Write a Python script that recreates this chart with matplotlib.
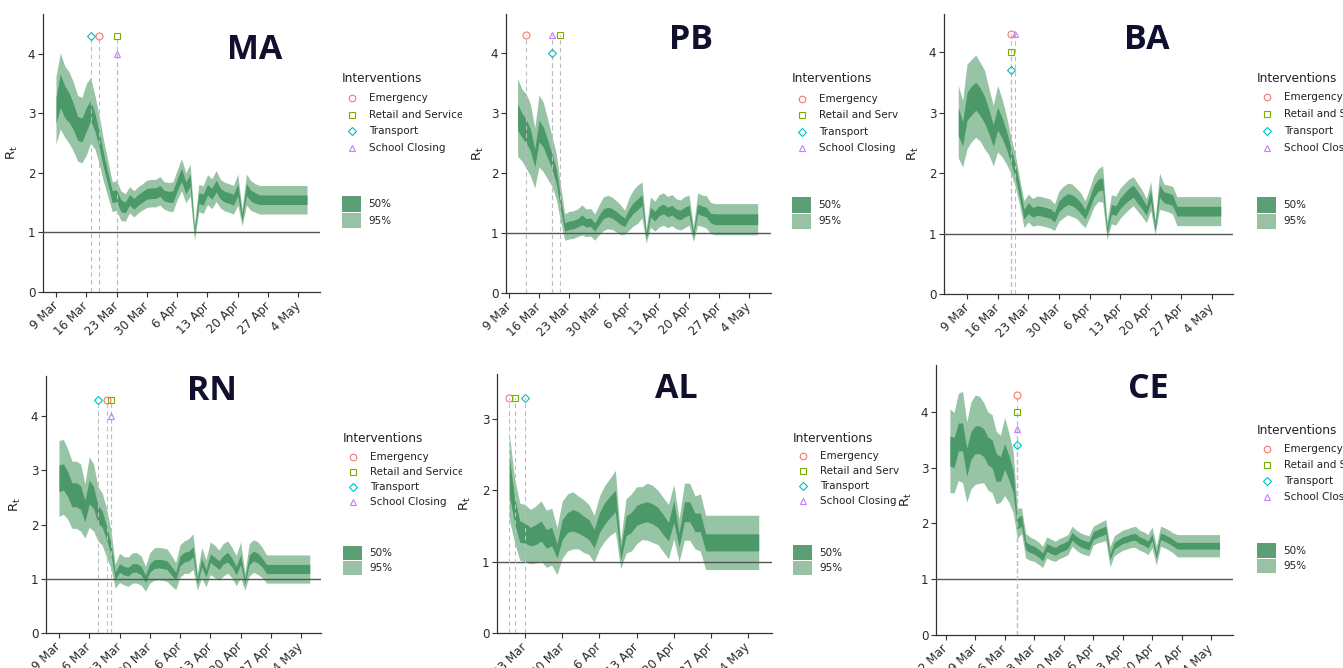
import matplotlib
matplotlib.use("Agg")
import matplotlib.pyplot as plt
import numpy as np
from matplotlib.patches import Rectangle

# ---------------- data (day index: 1 Mar = 0) ----------------
TICK_DAYS = [1, 8, 15, 22, 29, 36, 43, 50, 57, 64]
TICK_LABELS = ['2 Mar', '9 Mar', '16 Mar', '23 Mar', '30 Mar', '6 Apr',
               '13 Apr', '20 Apr', '27 Apr', '4 May']

INTERVENTIONS = ['Emergency', 'Retail and Services', 'Transport', 'School Closing']
IV_MARKERS = ['o', 's', 'D', '^']
IV_COLORS = ['#F8766D', '#7CAE00', '#00BFC4', '#C77CFF']

# ---- MA ----
MA_DAYS = [8, 9, 10, 11, 12, 13, 14, 15, 16, 17, 18, 19, 20, 21, 22, 23, 24, 25, 26, 27, 28, 29,
           30, 31, 32, 33, 34, 35, 36, 37, 38, 39, 40, 41, 42, 43, 44, 45, 46, 47, 48, 49, 50,
           51, 52, 53, 54, 55, 56, 66]
MA_MID = [3.05, 3.38, 3.2, 3.1, 2.95, 2.75, 2.72, 2.9, 3.05, 2.85, 2.55, 2.2, 1.9, 1.6, 1.62,
          1.45, 1.42, 1.55, 1.48, 1.55, 1.6, 1.65, 1.66, 1.66, 1.7, 1.62, 1.6, 1.6, 1.8, 1.97,
          1.75, 1.88, 1.0, 1.58, 1.55, 1.72, 1.65, 1.78, 1.65, 1.6, 1.58, 1.55, 1.72, 1.25, 1.72,
          1.62, 1.58, 1.55, 1.55, 1.55]
MA_H50 = [0.22, 0.28, 0.27, 0.25, 0.22, 0.2, 0.2, 0.2, 0.17, 0.15, 0.13, 0.12, 0.1,
          0.1, 0.1, 0.1, 0.09, 0.09, 0.09, 0.09, 0.09, 0.09, 0.09, 0.09, 0.09, 0.09, 0.09, 0.1,
          0.1, 0.11, 0.1, 0.1, 0.05, 0.09, 0.09, 0.09, 0.09, 0.1, 0.09, 0.09, 0.09, 0.09, 0.1,
          0.06, 0.1, 0.09, 0.09, 0.08, 0.08, 0.08]
MA_H95 = [0.57, 0.64, 0.6, 0.6, 0.58, 0.55, 0.55, 0.6, 0.55, 0.45, 0.4, 0.35, 0.3,
          0.25, 0.25, 0.25, 0.23, 0.22, 0.22, 0.22, 0.22, 0.23, 0.23, 0.23, 0.24, 0.23, 0.24,
          0.25, 0.25, 0.27, 0.25, 0.27, 0.13, 0.23, 0.23, 0.25, 0.25, 0.26, 0.24, 0.24, 0.24,
          0.24, 0.26, 0.14, 0.26, 0.25, 0.24, 0.24, 0.24, 0.24]
MA_IV_DAYS = [18, 22, 16, 22]
MA_IV_Y = [4.3, 4.3, 4.3, 4.0]

# ---- PB ----
PB_DAYS = [10, 11, 12, 13, 14, 15, 16, 17, 18, 19, 20, 21, 22, 23, 24, 25, 26, 27, 28, 29, 30,
           31, 32, 33, 34, 35, 36, 37, 38, 39, 40, 41, 42, 43, 44, 45, 46, 47, 48, 49, 50, 51,
           52, 53, 54, 55, 56, 66]
PB_MID = [2.93, 2.8, 2.7, 2.55, 2.25, 2.7, 2.6, 2.4, 2.2, 1.95, 1.5, 1.1, 1.13, 1.14, 1.17,
          1.22, 1.17, 1.18, 1.1, 1.22, 1.32, 1.35, 1.33, 1.28, 1.22, 1.18, 1.32, 1.42, 1.48,
          1.55, 0.95, 1.35, 1.28, 1.37, 1.4, 1.35, 1.38, 1.32, 1.3, 1.35, 1.38, 0.98, 1.4,
          1.37, 1.35, 1.25, 1.23, 1.23]
PB_H50 = [0.22, 0.2, 0.2, 0.18, 0.15, 0.18, 0.17, 0.15, 0.13, 0.12, 0.1,
          0.07, 0.07, 0.07, 0.07, 0.08, 0.07, 0.07, 0.07, 0.08, 0.08, 0.08, 0.08, 0.08, 0.08,
          0.07, 0.08, 0.09, 0.09, 0.09, 0.05, 0.08, 0.08, 0.08, 0.08, 0.08, 0.08, 0.08, 0.08,
          0.08, 0.08, 0.05, 0.08, 0.08, 0.08, 0.08, 0.09, 0.09]
PB_H95 = [0.65, 0.6, 0.62, 0.6, 0.5, 0.6, 0.58, 0.5, 0.42, 0.38, 0.3,
          0.22, 0.23, 0.23, 0.23, 0.25, 0.23, 0.23, 0.22, 0.25, 0.28, 0.28, 0.27, 0.26, 0.25,
          0.2, 0.27, 0.3, 0.32, 0.3, 0.12, 0.25, 0.25, 0.27, 0.27, 0.26, 0.26, 0.25, 0.25,
          0.26, 0.25, 0.12, 0.27, 0.26, 0.27, 0.26, 0.26, 0.26]
PB_IV_DAYS = [12, 20, 18, 18]
PB_IV_Y = [4.3, 4.3, 4.0, 4.3]

# ---- BA ----
BA_DAYS = [6, 7, 8, 9, 10, 11, 12, 13, 14, 15, 16, 17, 18, 19, 20, 21, 22, 23, 24, 25, 26, 27,
           28, 29, 30, 31, 32, 33, 34, 35, 36, 37, 38, 39, 40, 41, 42, 43, 44, 45, 46, 47, 48,
           49, 50, 51, 52, 53, 54, 55, 56, 66]
BA_MID = [2.85, 2.65, 3.1, 3.2, 3.27, 3.18, 3.05, 2.85, 2.62, 2.9, 2.75, 2.55, 2.3, 2.05, 1.7,
          1.32, 1.42, 1.35, 1.38, 1.37, 1.35, 1.33, 1.27, 1.45, 1.52, 1.57, 1.55, 1.5, 1.42,
          1.32, 1.5, 1.7, 1.8, 1.82, 1.05, 1.4, 1.38, 1.5, 1.58, 1.65, 1.7, 1.6, 1.5, 1.38,
          1.62, 1.1, 1.7, 1.6, 1.58, 1.55, 1.37, 1.37]
BA_H50 = [0.23, 0.2, 0.23, 0.24, 0.23, 0.23, 0.22, 0.2, 0.18, 0.19, 0.17, 0.15, 0.13, 0.12, 0.1,
          0.08, 0.09, 0.08, 0.08, 0.08, 0.08, 0.08, 0.08, 0.09, 0.09, 0.09, 0.09, 0.09, 0.09,
          0.08, 0.09, 0.1, 0.1, 0.1, 0.05, 0.08, 0.08, 0.09, 0.09, 0.1, 0.1, 0.1, 0.09, 0.08,
          0.1, 0.06, 0.1, 0.09, 0.09, 0.09, 0.08, 0.08]
BA_H95 = [0.6, 0.55, 0.7, 0.68, 0.68, 0.65, 0.65, 0.55, 0.5, 0.55, 0.48, 0.4, 0.3, 0.27, 0.22,
          0.22, 0.23, 0.23, 0.24, 0.24, 0.24, 0.24, 0.22, 0.25, 0.26, 0.26, 0.27, 0.25, 0.25,
          0.22, 0.24, 0.26, 0.27, 0.3, 0.15, 0.24, 0.24, 0.25, 0.25, 0.25, 0.24, 0.23, 0.22,
          0.2, 0.24, 0.12, 0.3, 0.22, 0.22, 0.23, 0.24, 0.24]
BA_IV_DAYS = [18, 18, 18, 19]
BA_IV_Y = [4.3, 4.0, 3.7, 4.3]

# ---- RN ----
RN_DAYS = [8, 9, 10, 11, 12, 13, 14, 15, 16, 17, 18, 19, 20, 21, 22, 23, 24, 25, 26, 27, 28, 29,
           30, 31, 32, 33, 34, 35, 36, 37, 38, 39, 40, 41, 42, 43, 44, 45, 46, 47, 48, 49, 50,
           51, 52, 53, 54, 55, 56, 66]
RN_MID = [2.85, 2.88, 2.75, 2.55, 2.55, 2.5, 2.25, 2.6, 2.5, 2.2, 2.1, 1.85, 1.55, 1.05, 1.2,
          1.15, 1.13, 1.2, 1.2, 1.15, 1.0, 1.2, 1.27, 1.28, 1.27, 1.25, 1.15, 1.05, 1.33, 1.4,
          1.42, 1.5, 0.95, 1.3, 1.1, 1.38, 1.32, 1.25, 1.35, 1.4, 1.3, 1.15, 1.35, 0.95, 1.35,
          1.42, 1.38, 1.3, 1.18, 1.18]
RN_H50 = [0.25, 0.24, 0.23, 0.22, 0.22, 0.22, 0.2, 0.22, 0.2, 0.17, 0.15, 0.13, 0.1,
          0.07, 0.08, 0.08, 0.08, 0.08, 0.08, 0.08, 0.07, 0.08, 0.08, 0.08, 0.08, 0.08, 0.08,
          0.07, 0.09, 0.09, 0.09, 0.09, 0.05, 0.08, 0.07, 0.08, 0.08, 0.08, 0.08, 0.09, 0.08,
          0.08, 0.09, 0.05, 0.09, 0.09, 0.09, 0.08, 0.085, 0.085]
RN_H95 = [0.7, 0.69, 0.65, 0.62, 0.62, 0.62, 0.5, 0.65, 0.62, 0.5, 0.48, 0.45, 0.35,
          0.22, 0.27, 0.26, 0.27, 0.28, 0.28, 0.27, 0.23, 0.28, 0.3, 0.3, 0.3, 0.3, 0.28,
          0.25, 0.3, 0.3, 0.32, 0.33, 0.16, 0.28, 0.25, 0.3, 0.3, 0.28, 0.3, 0.3, 0.28,
          0.28, 0.33, 0.16, 0.3, 0.3, 0.3, 0.28, 0.26, 0.26]
RN_IV_DAYS = [19, 20, 17, 20]
RN_IV_Y = [4.3, 4.3, 4.3, 4.0]

# ---- AL ----
AL_DAYS = [19, 20, 21, 22, 23, 24, 25, 26, 27, 28, 29, 30, 31, 32, 33, 34, 35, 36, 37, 38, 39,
           40, 41, 42, 43, 44, 45, 46, 47, 48, 49, 50, 51, 52, 53, 54, 55, 56, 66]
AL_MID = [2.2, 1.72, 1.42, 1.4, 1.35, 1.38, 1.43, 1.32, 1.35, 1.15, 1.45, 1.55, 1.58, 1.55,
          1.5, 1.45, 1.32, 1.55, 1.68, 1.77, 1.85, 1.1, 1.5, 1.55, 1.65, 1.68, 1.7, 1.67, 1.62,
          1.52, 1.42, 1.7, 1.3, 1.7, 1.7, 1.55, 1.55, 1.27, 1.27]
AL_H50 = [0.27, 0.18, 0.15, 0.14, 0.13, 0.14, 0.14, 0.13, 0.13, 0.1, 0.14, 0.14, 0.15, 0.15,
          0.14, 0.14, 0.13, 0.14, 0.15, 0.15, 0.15, 0.08, 0.14, 0.14, 0.14, 0.14, 0.14, 0.14,
          0.14, 0.14, 0.13, 0.15, 0.1, 0.14, 0.14, 0.13, 0.13, 0.12, 0.12]
AL_H95 = [0.6, 0.45, 0.4, 0.4, 0.38, 0.4, 0.42, 0.4, 0.4, 0.33, 0.4, 0.4, 0.4, 0.37, 0.37,
          0.35, 0.33, 0.37, 0.39, 0.4, 0.43, 0.2, 0.38, 0.4, 0.4, 0.37, 0.4, 0.4, 0.38, 0.38,
          0.38, 0.38, 0.3, 0.4, 0.4, 0.37, 0.4, 0.38, 0.38]
AL_IV_DAYS = [19, 20, 22, None]
AL_IV_Y = [3.3, 3.3, 3.3, None]

# ---- CE ----
CE_DAYS = [2, 3, 4, 5, 6, 7, 8, 9, 10, 11, 12, 13, 14, 15, 16, 17, 18, 19, 20, 21, 22, 23, 24,
           25, 26, 27, 28, 29, 30, 31, 32, 33, 34, 35, 36, 37, 38, 39, 40, 41, 42, 43, 44, 45,
           46, 47, 48, 49, 50, 51, 52, 53, 54, 55, 56, 66]
CE_MID = [3.3, 3.27, 3.55, 3.55, 3.1, 3.4, 3.5, 3.5, 3.45, 3.3, 3.25, 3.0, 2.98, 3.2, 3.0, 2.75,
          2.0, 2.05, 1.6, 1.55, 1.52, 1.47, 1.4, 1.57, 1.53, 1.5, 1.55, 1.58, 1.62, 1.77, 1.7,
          1.65, 1.62, 1.6, 1.78, 1.82, 1.85, 1.88, 1.4, 1.6, 1.65, 1.7, 1.72, 1.75, 1.76, 1.7,
          1.67, 1.62, 1.75, 1.42, 1.77, 1.74, 1.7, 1.65, 1.6, 1.6]
CE_H50 = [0.27, 0.27, 0.25, 0.25, 0.25, 0.25, 0.25, 0.25, 0.25, 0.25, 0.25, 0.25, 0.22, 0.23,
          0.22, 0.2, 0.1, 0.1, 0.07, 0.07, 0.07, 0.07, 0.07, 0.07, 0.07, 0.07, 0.07, 0.07,
          0.07, 0.07, 0.07, 0.07, 0.07, 0.07, 0.07, 0.07, 0.07, 0.07, 0.05, 0.06, 0.06, 0.06,
          0.06, 0.06, 0.06, 0.06, 0.06, 0.06, 0.06, 0.05, 0.06, 0.06, 0.06, 0.06, 0.06, 0.06]
CE_H95 = [0.75, 0.72, 0.78, 0.82, 0.72, 0.78, 0.8, 0.78, 0.72, 0.7, 0.7, 0.65, 0.6, 0.7, 0.62,
          0.55, 0.27, 0.23, 0.22, 0.21, 0.2, 0.2, 0.19, 0.19, 0.19, 0.18, 0.18, 0.18, 0.18,
          0.18, 0.18, 0.18, 0.18, 0.18, 0.17, 0.17, 0.18, 0.19, 0.18, 0.18, 0.18, 0.18, 0.18,
          0.18, 0.19, 0.18, 0.18, 0.18, 0.19, 0.17, 0.18, 0.18, 0.18, 0.18, 0.2, 0.2]
CE_IV_DAYS = [18, 18, 18, 18]
CE_IV_Y = [4.3, 4.0, 3.4, 3.7]

# ---------------- layout (pixels) ----------------
W, H = 1343, 668
C95 = '#97c4a5'
C50 = '#4b9968'
LEG50 = '#5c9f75'
LEG95 = '#98c2a3'
TITLE_COLOR = '#10102e'
MS = {'o': 5, 's': 4.6, 'D': 4.0, '^': 5}

PANELS = [
    dict(name='MA', days=MA_DAYS, mid=MA_MID, h50=MA_H50, h95=MA_H95, ivd=MA_IV_DAYS, ivy=MA_IV_Y,
         box=(43, 14, 320, 292), xlim=(5.0, 69.0), ylim=(0, 4.67), yt=[0, 1, 2, 3, 4],
         ylab=20, col=(0, 462), row=(0, 340), title=(255, 59),
         leg=(342, 79, 98, 16.7, 196, 16)),
    dict(name='PB', days=PB_DAYS, mid=PB_MID, h50=PB_H50, h95=PB_H95, ivd=PB_IV_DAYS, ivy=PB_IV_Y,
         box=(506, 14, 771, 293), xlim=(7.3, 69.1), ylim=(0, 4.65), yt=[0, 1, 2, 3, 4],
         ylab=486, col=(462, 899), row=(0, 340), title=(691, 49),
         leg=(792, 79, 98.5, 16.6, 197, 16)),
    dict(name='BA', days=BA_DAYS, mid=BA_MID, h50=BA_H50, h95=BA_H95, ivd=BA_IV_DAYS, ivy=BA_IV_Y,
         box=(944, 14, 1233, 294), xlim=(2.74, 68.8), ylim=(0, 4.63), yt=[0, 1, 2, 3, 4],
         ylab=921, col=(899, 1343), row=(0, 340), title=(1147, 49),
         leg=(1257, 78, 97, 17, 197, 16)),
    dict(name='RN', days=RN_DAYS, mid=RN_MID, h50=RN_H50, h95=RN_H95, ivd=RN_IV_DAYS, ivy=RN_IV_Y,
         box=(46, 376, 321, 633), xlim=(5.0, 68.6), ylim=(0, 4.74), yt=[0, 1, 2, 3, 4],
         ylab=23, col=(0, 462), row=(340, 668), title=(212, 400),
         leg=(343, 439, 457, 15, 546, 14.5)),
    dict(name='AL', days=AL_DAYS, mid=AL_MID, h50=AL_H50, h95=AL_H95, ivd=AL_IV_DAYS, ivy=AL_IV_Y,
         box=(497, 374, 772, 633), xlim=(16.7, 68.5), ylim=(0, 3.63), yt=[0, 1, 2, 3],
         ylab=473, col=(462, 899), row=(340, 668), title=(676, 398),
         leg=(793, 438, 456, 15, 545, 15)),
    dict(name='CE', days=CE_DAYS, mid=CE_MID, h50=CE_H50, h95=CE_H95, ivd=CE_IV_DAYS, ivy=CE_IV_Y,
         box=(936, 365, 1233, 635), xlim=(-1.3, 69.2), ylim=(0, 4.84), yt=[0, 1, 2, 3, 4],
         ylab=914, col=(899, 1343), row=(340, 668), title=(1148, 398),
         leg=(1257, 431, 449, 16, 543, 15)),
]

plt.rcParams['font.family'] = ['DejaVu Sans']
fig = plt.figure(figsize=(W / 100, H / 100), dpi=100)
fig.patch.set_facecolor('white')

for p in PANELS:
    l, t, r, b = p['box']
    ax = fig.add_axes([l / W, 1 - b / H, (r - l) / W, (b - t) / H])
    d = np.array(p['days'], dtype=float)
    m = np.array(p['mid'])
    h50 = np.array(p['h50'])
    h95 = np.array(p['h95'])
    ax.fill_between(d, m - h95, m + h95, color=C95, lw=0, zorder=1)
    ax.fill_between(d, m - h50, m + h50, color=C50, lw=0, zorder=2)
    ax.axhline(1, color='#555555', lw=1.0, zorder=3)
    for i in range(4):
        dd, yy = p['ivd'][i], p['ivy'][i]
        if dd is None:
            continue
        ax.vlines(dd, 0, yy, colors='#bdbdbd', linestyles=(0, (4, 3)), lw=0.8, zorder=4)
        ax.plot([dd], [yy], marker=IV_MARKERS[i], mfc='none', mec=IV_COLORS[i],
                ms=MS[IV_MARKERS[i]], mew=0.8, ls='none', zorder=6, clip_on=False)
    ax.set_xlim(*p['xlim'])
    ax.set_ylim(*p['ylim'])
    ticks = [(td, tl) for td, tl in zip(TICK_DAYS, TICK_LABELS) if p['xlim'][0] <= td <= p['xlim'][1]]
    ax.set_xticks([tk[0] for tk in ticks])
    ax.set_xticklabels([tk[1] for tk in ticks], rotation=45, ha='right', va='center',
                       rotation_mode='anchor')
    ax.set_yticks(p['yt'])
    ax.tick_params(axis='both', direction='out', length=3.5, width=0.8, color='#333333',
                   labelsize=8.6, labelcolor='#2a2a2a')
    ax.tick_params(axis='x', pad=5)
    ax.tick_params(axis='y', pad=2)
    for s in ['top', 'right']:
        ax.spines[s].set_visible(False)
    for s in ['left', 'bottom']:
        ax.spines[s].set_color('#333333')
        ax.spines[s].set_linewidth(0.9)
    ax.set_ylabel(r'$\mathregular{R_t}$', fontsize=9.5, color='#222222')
    ax.yaxis.set_label_coords((p['ylab'] - l) / (r - l), 0.5)

    # overlay in pixel coordinates (clipped to panel tile, like the cropped source tiles)
    c0, c1 = p['col']
    r0, r1 = p['row']
    ao = fig.add_axes([c0 / W, 1 - r1 / H, (c1 - c0) / W, (r1 - r0) / H])
    ao.set_xlim(c0, c1)
    ao.set_ylim(r1, r0)
    ao.axis('off')
    tx, ty = p['title']
    ao.text(tx, ty, p['name'], fontsize=24.5, fontweight='bold', family='Open Sans',
            color=TITLE_COLOR, ha='center', va='baseline', clip_on=True)
    lx, lty, iy0, idy, by0, bh = p['leg']
    ao.text(lx, lty, 'Interventions', fontsize=8.7, color='#222222', ha='left', va='center',
            clip_on=True)
    for i, name in enumerate(INTERVENTIONS):
        yy = iy0 + i * idy
        ao.plot([lx + 10], [yy], marker=IV_MARKERS[i], mfc='none', mec=IV_COLORS[i],
                ms=MS[IV_MARKERS[i]] * 0.95, mew=0.8, ls='none', clip_on=True)
        ao.text(lx + 27, yy, name, fontsize=7.5, color='#222222', ha='left', va='center',
                clip_on=True)
    ao.add_patch(Rectangle((lx, by0), 19, bh - 0.5, color=LEG50, lw=0))
    ao.add_patch(Rectangle((lx, by0 + bh + 0.5), 19, bh - 0.5, color=LEG95, lw=0))
    ao.text(lx + 26, by0 + bh / 2, '50%', fontsize=7.5, color='#222222', va='center',
            clip_on=True)
    ao.text(lx + 26, by0 + bh * 1.5 + 0.5, '95%', fontsize=7.5, color='#222222', va='center',
            clip_on=True)

fig.savefig('out.png', dpi=100, facecolor='white')
